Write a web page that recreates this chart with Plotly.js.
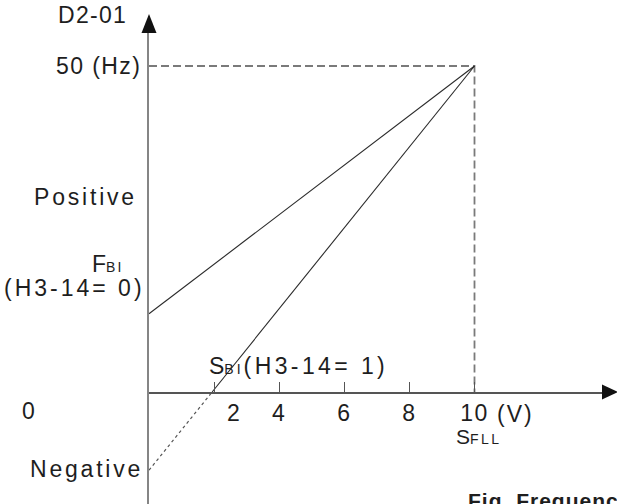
<!DOCTYPE html>
<html>
<head>
<meta charset="utf-8">
<script src="https://cdn.plot.ly/plotly-3.0.1.min.js"></script>
<style>html,body{margin:0;padding:0;background:#fff;}#chart{width:617px;height:504px;}</style>
</head>
<body>
<div id="chart"></div>
<script>
// ---- data ----
const xTickVals = [2, 4, 6, 8, 10];
const xTickText = ['2', '4', '6', '8', '10'];
const fbiLineX = [0, 10];
const fbiLineY = [12, 50];
const sbiLineX = [1.94, 10];
const sbiLineY = [0, 50];
const negLineX = [0, 1.94];
const negLineY = [-12, 0];
const refLineX = [0, 10, 10];
const refLineY = [50, 50, 0];

// ---- layout helpers (pixel -> paper) ----
const W = 617, H = 504;
const px = x => x / W;
const py = y => 1 - y / H;
const FONT = 'Liberation Sans, Arial, sans-serif';
const TXT = '#1e1e1e';
const sp = (t, ls) => `<span style="letter-spacing:${ls}px">${t}</span>`;
const small = (t, ls) => `<span style="font-size:14px;letter-spacing:${ls}px">${t}</span>`;

const traces = [
  {x: refLineX, y: refLineY, mode: 'lines', line: {color: '#7a7a7a', width: 1.8, dash: '8px,4px'}, hoverinfo: 'skip'},
  {x: fbiLineX, y: fbiLineY, mode: 'lines', line: {color: '#2a2a2a', width: 1.1}, hoverinfo: 'skip'},
  {x: sbiLineX, y: sbiLineY, mode: 'lines', line: {color: '#2a2a2a', width: 1.1}, hoverinfo: 'skip'},
  {x: negLineX, y: negLineY, mode: 'lines', line: {color: '#555', width: 1.2, dash: 'dot'}, hoverinfo: 'skip'}
];

function ann(text, x, y, xa, opts) {
  return Object.assign({text: text, x: px(x), y: py(y), xref: 'paper', yref: 'paper',
    xanchor: xa, yanchor: 'middle', showarrow: false,
    font: {family: FONT, size: 23, color: TXT}}, opts || {});
}

const annotations = [
  ann(sp('D2-01', 1.3), 92, 15, 'center'),
  ann(sp('50 (Hz)', 1.4), 143, 66, 'right'),
  ann(sp('Positive', 2.8), 139, 197, 'right'),
  ann('F' + small('BI', 2), 107, 264, 'center'),
  ann(sp('(H3-14= 0)', 3), 147, 288, 'right'),
  ann('S' + small('BI', 3) + sp('(H3-14= 1)', 3.4), 207, 366, 'left'),
  ann('0', 28, 411, 'center'),
  ann(sp('Negative', 2.8), 145, 469, 'right'),
  ann(sp('(V)', 2), 515, 414, 'center'),
  ann('S' + small('FLL', 2.5), 454, 436, 'left', {font: {family: FONT, size: 21, color: TXT}}),
  ann(sp('<b>Fig. Frequency Bias</b>', 1), 466, 500.5, 'left', {font: {family: FONT, size: 21, color: TXT}})
];

const shapes = [
  {type: 'path', xref: 'paper', yref: 'paper',
   path: `M ${px(149)} ${py(14)} L ${px(141.5)} ${py(33)} L ${px(156.5)} ${py(33)} Z`,
   fillcolor: '#111', line: {width: 0}},
  {type: 'path', xref: 'paper', yref: 'paper',
   path: `M ${px(618)} ${py(392)} L ${px(602)} ${py(384.5)} L ${px(602)} ${py(399.5)} Z`,
   fillcolor: '#111', line: {width: 0}}
];

const tickText = xTickText.map((t, i) => i === 0 ? '\u00a0\u00a0\u00a0\u00a0\u00a0\u00a0' + t : sp(t, 1.4));

const layout = {
  width: W, height: H,
  margin: {l: 0, r: 0, t: 0, b: 0},
  paper_bgcolor: '#fff', plot_bgcolor: '#fff',
  showlegend: false,
  xaxis: {
    domain: [px(149), px(604)],
    range: [0, (604 - 149) / 32.55],
    anchor: 'free', position: py(392),
    showgrid: false, zeroline: false,
    showline: true, linecolor: '#555', linewidth: 1.5,
    ticks: 'inside', ticklen: 10, tickwidth: 1.2, tickcolor: '#555',
    tickvals: xTickVals, ticktext: tickText,
    tickfont: {family: FONT, size: 23, color: TXT},
    fixedrange: true
  },
  yaxis: {
    domain: [0, py(31)],
    range: [-(504 - 392) / 6.52, (392 - 31) / 6.52],
    anchor: 'x',
    showgrid: false, zeroline: false,
    showline: true, linecolor: '#858585', linewidth: 2,
    ticks: '', showticklabels: false,
    fixedrange: true
  },
  annotations: annotations,
  shapes: shapes
};

Plotly.newPlot('chart', traces, layout, {displayModeBar: false, staticPlot: true});
</script>
</body>
</html>
